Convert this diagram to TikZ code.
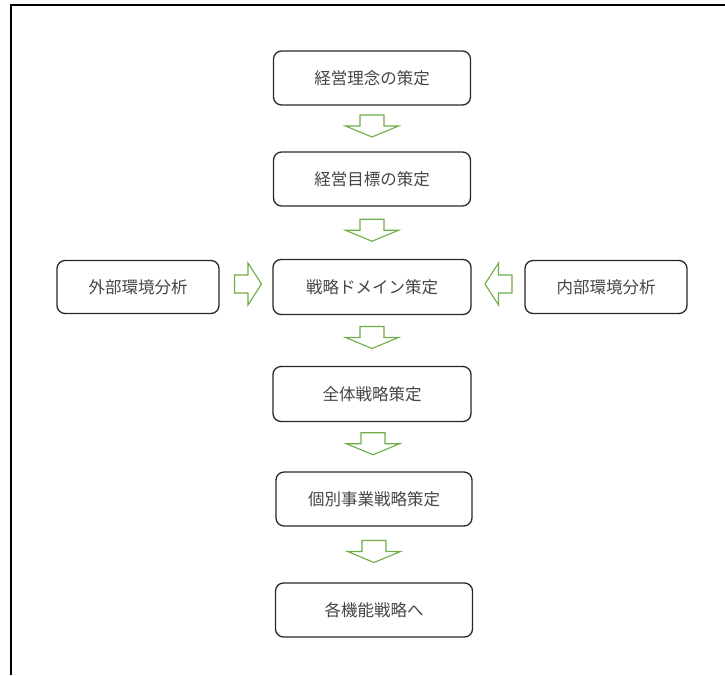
\documentclass[tikz,border=0pt]{standalone}
\usepackage{fontspec}
\newfontfamily\jp{Noto Sans CJK JP}
\usetikzlibrary{calc}
\definecolor{agreen}{RGB}{112,173,71}
\definecolor{boxline}{RGB}{40,40,40}
\definecolor{txt}{RGB}{70,70,70}
\tikzset{
  box/.style={draw=boxline, line width=1.3pt, rounded corners=8pt, fill=white,
    minimum width=197pt, minimum height=54pt, inner sep=0pt,
    font=\jp\fontsize{16.5pt}{18pt}\selectfont, text=txt},
  sidebox/.style={box, minimum width=162pt, minimum height=53pt},
  garrow/.style={draw=agreen, line width=1.1pt, fill=white, line join=miter},
  downarr/.pic={\draw[garrow] (-12,-11) -- (12,-11) -- (12,0) -- (26.5,0) -- (0,11) -- (-26.5,0) -- (-12,0) -- cycle;},
  rightarr/.pic={\draw[garrow] (-13.5,-9) -- (0,-9) -- (0,-21) -- (13.5,0) -- (0,21) -- (0,9) -- (-13.5,9) -- cycle;},
  leftarr/.pic={\draw[garrow] (13.5,-9) -- (0,-9) -- (0,-21) -- (-13.5,0) -- (0,21) -- (0,9) -- (13.5,9) -- cycle;}
}
\begin{document}
\begin{tikzpicture}[x=1pt,y=-1pt]
\useasboundingbox (0,0) rectangle (725,675);
\coordinate (frTR) at (725,5);
\coordinate (frTL) at (11,5);
\coordinate (frBL) at (11,675);
\draw[line width=1.5pt, black] (frTR) -- (frTL) -- (frBL);

\node[box] (b1) at (372,78) {経営理念の策定};
\node[box] (b2) at (372,179) {経営目標の策定};
\node[box, minimum width=198pt, minimum height=55pt] (b3) at (372,287) {戦略ドメイン策定};
\node[sidebox] (ext) at (138,287) {外部環境分析};
\node[sidebox] (int) at (606,287) {内部環境分析};
\node[box, minimum width=198pt, minimum height=55pt] (b4) at (372,394) {全体戦略策定};
\node[box, minimum width=196pt] (b5) at (374,499) {個別事業戦略策定};
\node[box] (b6) at (374,610) {各機能戦略へ};

\pic at ($(b1.south)!0.5!(b2.north)+(0,-2.5)$) {downarr};
\pic at ($(b2.south)!0.5!(b3.north)+(0,-2.5)$) {downarr};
\pic at ($(b3.south)!0.5!(b4.north)+(0,-3)$) {downarr};
\pic at ($(b4.south)!0.5!(b5.north)+(0,-3)$) {downarr};
\pic at ($(b5.south)!0.5!(b6.north)+(0,-3)$) {downarr};
\pic at ($(ext.east)!0.5!(b3.west)+(2,-3)$) {rightarr};
\pic at ($(b3.east)!0.5!(int.west)+(0.5,-3)$) {leftarr};
\end{tikzpicture}
\end{document}
